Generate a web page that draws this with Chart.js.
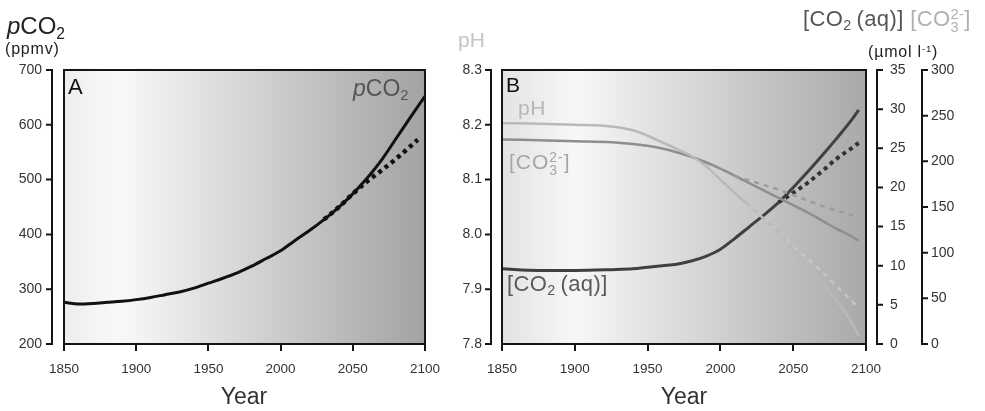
<!DOCTYPE html>
<html>
<head>
<meta charset="utf-8">
<script src="https://cdn.jsdelivr.net/npm/chart.js@4.4.1/dist/chart.umd.min.js"></script>
<style>
  html, body { margin: 0; padding: 0; background: #fff; }
  body { width: 985px; height: 411px; position: relative; overflow: hidden;
         font-family: "Liberation Sans", Arial, sans-serif; }
  canvas { position: absolute; top: 0; }
  #chartA { left: 0; }
  #chartB { left: 440px; }
  .t { position: absolute; line-height: 1; white-space: nowrap; }
  .sub { font-size: 0.65em; position: relative; top: 0.3em; }
  .sup { font-size: 0.6em; position: relative; top: -0.55em; }
  .ss { display: inline-block; font-size: 0.66em; line-height: 0.9; vertical-align: -0.42em; }
  .ss span { display: block; }
</style>
</head>
<body>
<canvas id="chartA" width="450" height="411"></canvas>
<canvas id="chartB" width="545" height="411"></canvas>

<div class="t" style="left:7px; top:14px; font-size:24px; color:#222;"><i>p</i>CO<span class="sub">2</span></div>
<div class="t" style="left:5px; top:41px; font-size:16px; letter-spacing:0.8px; color:#222;">(ppmv)</div>
<div class="t" style="left:68px; top:76px; font-size:22px; color:#111;">A</div>
<div class="t" style="left:353px; top:77px; font-size:23px; color:#555;"><i>p</i>CO<span class="sub">2</span></div>

<div class="t" style="left:458px; top:29px; font-size:21px; color:#c4c4c4;">pH</div>
<div class="t" style="left:506px; top:74px; font-size:21px; color:#111;">B</div>
<div class="t" style="left:518px; top:97px; font-size:21px; letter-spacing:0.5px; color:#b8b8b8;">pH</div>
<div class="t" style="left:509px; top:151px; font-size:21px; letter-spacing:1px; color:#a6a6a6;">[CO<span class="ss"><span>2-</span><span>3</span></span>]</div>
<div class="t" style="left:507px; top:273px; font-size:22px; letter-spacing:0.4px; color:#5a5a5a;">[CO<span class="sub">2</span>&thinsp;(aq)]</div>

<div class="t" style="left:803px; top:8px; font-size:22px; letter-spacing:0.4px;"><span style="color:#555;">[CO<span class="sub">2</span>&thinsp;(aq)]</span> <span style="color:#b0b0b0;">[CO<span class="ss"><span>2-</span><span>3</span></span>]</span></div>
<div class="t" style="left:868px; top:44px; font-size:16px; letter-spacing:0.8px; color:#222;">(µmol l<span class="sup">-1</span>)</div>

<div class="t" style="left:194px; width:100px; text-align:center; top:385px; font-size:23px; color:#333;">Year</div>
<div class="t" style="left:634px; width:100px; text-align:center; top:385px; font-size:23px; color:#333;">Year</div>

<script>
// Panel A: atmospheric pCO2 (ppmv)
const yearsA = [1850, 1860, 1870, 1880, 1890, 1900, 1910, 1920, 1930, 1940, 1950, 1960, 1970,
                1980, 1990, 2000, 2010, 2020, 2030, 2040, 2050, 2060, 2070, 2080, 2090, 2100];
const pco2 = [276, 273, 274, 276, 278, 281, 285, 290, 295, 302, 311, 320, 330,
              342, 356, 370, 389, 407, 427, 449, 474, 503, 536, 575, 614, 652];
const yearsAlt = [2030, 2040, 2050, 2060, 2070, 2080, 2090, 2095];
const pco2Alt = [427, 449, 474, 497, 517, 538, 561, 573];

// Panel B: pH, [CO3 2-], [CO2(aq)]
const yearsB = [1850, 1875, 1900, 1925, 1940, 1950, 1960, 1970, 1980, 1990, 2000,
                2010, 2020, 2030, 2040, 2050, 2060, 2070, 2080, 2090, 2095];
const pH = [8.203, 8.202, 8.200, 8.197, 8.190, 8.180, 8.168, 8.156, 8.143, 8.125, 8.100,
            8.075, 8.052, 8.028, 8.005, 7.975, 7.942, 7.910, 7.878, 7.840, 7.815];
const co3 = [224, 223, 222, 221, 219, 217, 214, 210, 205, 199, 192,
             184, 176, 168, 160, 152, 144, 135, 126, 118, 113];
const co2aq = [9.6, 9.4, 9.4, 9.5, 9.6, 9.8, 10.0, 10.2, 10.6, 11.2, 12.1,
               13.5, 15.0, 16.5, 18.1, 20.0, 22.0, 24.1, 26.3, 28.6, 29.9];

const yearsPhAlt = [2020, 2030, 2040, 2050, 2060, 2070, 2080, 2090, 2095];
const pHAlt = [8.052, 8.028, 8.006, 7.978, 7.955, 7.931, 7.905, 7.879, 7.866];
const yearsCo3Alt = [2010, 2020, 2030, 2040, 2050, 2060, 2070, 2080, 2090, 2095];
const co3Alt = [184, 179, 174, 169, 163, 157, 151, 146, 141, 138];
const yearsCo2Alt = [2040, 2050, 2060, 2070, 2080, 2090, 2095];
const co2aqAlt = [18.1, 19.3, 20.6, 22.1, 23.7, 25.0, 25.7];

const yearTicks = [1850, 1900, 1950, 2000, 2050, 2100];

function points(xs, ys) {
  return xs.map((x, i) => ({ x: x, y: ys[i] }));
}

// gradient panel, black frame and offset y spines
const panelFrame = {
  id: 'panelFrame',
  beforeDraw(chart, args, opts) {
    const { ctx, chartArea: a } = chart;
    const g = ctx.createLinearGradient(a.left, 0, a.right, 0);
    opts.stops.forEach(s => g.addColorStop(s[0], s[1]));
    ctx.save();
    ctx.fillStyle = g;
    ctx.fillRect(a.left, a.top, a.right - a.left, a.bottom - a.top);
    ctx.restore();
  },
  afterDraw(chart, args, opts) {
    const { ctx, chartArea: a } = chart;
    ctx.save();
    ctx.strokeStyle = '#151515';
    ctx.lineWidth = 2;
    ctx.strokeRect(a.left, a.top, a.right - a.left, a.bottom - a.top);
    opts.spines.forEach(sp => {
      const scale = chart.scales[sp.id];
      const left = sp.side === 'left';
      const x = left ? a.left - sp.gap : a.right + sp.gap;
      const dir = left ? -1 : 1;
      ctx.beginPath();
      ctx.moveTo(x, scale.top - 1);
      ctx.lineTo(x, scale.bottom + 1);
      scale.ticks.forEach(t => {
        const y = scale.getPixelForValue(t.value);
        ctx.moveTo(x, y);
        ctx.lineTo(x + dir * 6, y);
      });
      ctx.stroke();
    });
    ctx.restore();
  }
};

const tickFont = { family: 'Liberation Sans', size: 14 };

function xScale() {
  return {
    type: 'linear', min: 1850, max: 2100,
    afterBuildTicks: s => { s.ticks = yearTicks.map(v => ({ value: v })); },
    afterFit: s => { s.height = 67; },
    border: { display: false },
    grid: { drawOnChartArea: false, drawTicks: true, tickLength: 7, color: '#151515', lineWidth: 2 },
    ticks: { padding: 10, color: '#333', font: { family: 'Liberation Sans', size: 13.5 }, callback: v => String(v) }
  };
}

function yScale(pos, min, max, step, width, pad, fmt) {
  return {
    type: 'linear', position: pos, min: min, max: max,
    afterFit: s => { s.width = width; },
    border: { display: false },
    grid: { display: false, drawTicks: false },
    ticks: { stepSize: step, padding: pad, color: '#333', font: tickFont, callback: fmt }
  };
}

const common = {
  responsive: false,
  animation: false,
  devicePixelRatio: 1,
  elements: { point: { radius: 0 }, line: { cubicInterpolationMode: 'monotone', borderCapStyle: 'butt' } }
};

new Chart(document.getElementById('chartA'), {
  type: 'line',
  data: {
    datasets: [
      { data: points(yearsAlt, pco2Alt), borderColor: '#111', borderWidth: 4.5, borderDash: [4, 4] },
      { data: points(yearsA, pco2), borderColor: '#111', borderWidth: 3 }
    ]
  },
  options: Object.assign({}, common, {
    layout: { padding: { top: 70, right: 15, left: 0, bottom: 0 } },
    plugins: {
      legend: { display: false }, tooltip: { enabled: false },
      panelFrame: {
        stops: [[0, '#ededed'], [0.15, '#f9f9f9'], [1, '#a3a3a3']],
        spines: [{ id: 'y', side: 'left', gap: 12 }]
      }
    },
    scales: {
      x: xScale(),
      y: yScale('left', 200, 700, 100, 64, 22, v => String(v))
    }
  }),
  plugins: [panelFrame]
});

new Chart(document.getElementById('chartB'), {
  type: 'line',
  data: {
    datasets: [
      { data: points(yearsPhAlt, pHAlt), yAxisID: 'y', borderColor: '#c6c6c6', borderWidth: 2.5, borderDash: [5, 5] },
      { data: points(yearsB, pH), yAxisID: 'y', borderColor: '#b9b9b9', borderWidth: 2.5 },
      { data: points(yearsCo3Alt, co3Alt), yAxisID: 'y2', borderColor: '#9c9c9c', borderWidth: 2.5, borderDash: [5, 5] },
      { data: points(yearsB, co3), yAxisID: 'y2', borderColor: '#8e8e8e', borderWidth: 2.5 },
      { data: points(yearsCo2Alt, co2aqAlt), yAxisID: 'y1', borderColor: '#333', borderWidth: 4, borderDash: [4, 4] },
      { data: points(yearsB, co2aq), yAxisID: 'y1', borderColor: '#404040', borderWidth: 3 }
    ]
  },
  options: Object.assign({}, common, {
    layout: { padding: { top: 70, right: 0, left: 0, bottom: 0 } },
    plugins: {
      legend: { display: false }, tooltip: { enabled: false },
      panelFrame: {
        stops: [[0, '#e3e3e3'], [0.2, '#f7f7f7'], [1, '#a9a9a9']],
        spines: [
          { id: 'y', side: 'left', gap: 11 },
          { id: 'y1', side: 'right', gap: 11 },
          { id: 'y2', side: 'right', gap: 56 }
        ]
      }
    },
    scales: {
      x: xScale(),
      y: yScale('left', 7.8, 8.3, 0.1, 62, 20, v => v.toFixed(1)),
      y1: yScale('right', 0, 35, 5, 56, 24, v => String(v)),
      y2: yScale('right', 0, 300, 50, 63, 9, v => String(v))
    }
  }),
  plugins: [panelFrame]
});
</script>
</body>
</html>
